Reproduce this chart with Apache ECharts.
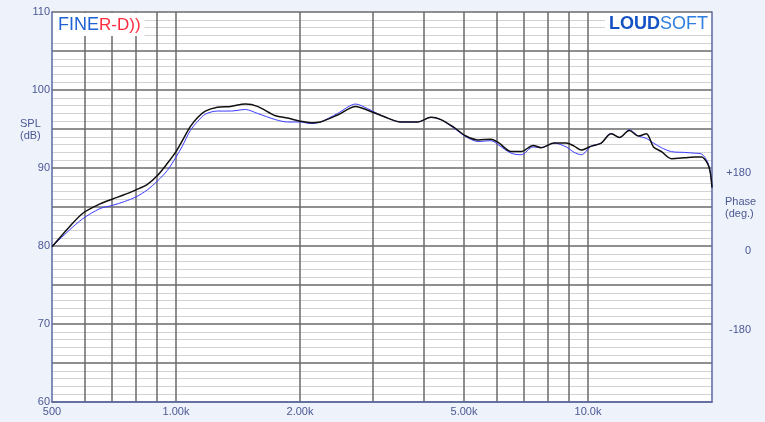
<!DOCTYPE html>
<html>
<head>
<meta charset="utf-8">
<script src="https://cdn.jsdelivr.net/npm/echarts@6/dist/echarts.min.js"></script>
<style>
html,body{margin:0;padding:0;background:#eef2fb;}
#chart{width:765px;height:422px;}
</style>
</head>
<body>
<div id="chart"></div>
<script>
const freqHz = [500, 550, 594, 654, 700, 750, 800, 852, 900, 953, 1000, 1036, 1083, 1130, 1178, 1260, 1356, 1474, 1576, 1744, 1865, 2000, 2122, 2243, 2468, 2730, 2920, 3194, 3513, 3864, 4157, 4395, 4728, 5057, 5407, 5815, 6084, 6506, 6882, 7360, 7697, 8279, 8854, 9260, 9631, 10186, 10772, 11204, 11396, 11917, 12602, 13253, 13860, 14419, 15080, 15946, 17148, 18133, 18860, 19500, 19800, 20000];
const splBlack = [79.9, 82.4, 84.2, 85.4, 86.0, 86.6, 87.2, 87.9, 89.0, 90.6, 92.1, 93.5, 95.3, 96.5, 97.3, 97.8, 97.9, 98.2, 97.9, 96.7, 96.4, 96.0, 95.8, 95.9, 96.8, 97.9, 97.4, 96.6, 95.9, 95.9, 96.5, 96.2, 95.2, 94.1, 93.6, 93.7, 93.2, 92.1, 92.1, 92.9, 92.6, 93.2, 93.2, 92.8, 92.3, 92.8, 93.2, 94.2, 94.4, 93.9, 94.8, 94.1, 94.4, 92.7, 92.1, 91.2, 91.3, 91.4, 91.4, 90.6, 89.5, 87.5];
const splBlue = [79.9, 82.0, 83.5, 84.8, 85.2, 85.7, 86.3, 87.2, 88.3, 89.7, 91.4, 92.8, 94.8, 96.0, 96.9, 97.3, 97.3, 97.5, 97.0, 96.2, 95.9, 95.9, 95.7, 95.9, 97.0, 98.2, 97.6, 96.6, 95.9, 95.9, 96.5, 96.2, 95.1, 94.0, 93.4, 93.5, 92.9, 91.9, 91.7, 92.7, 92.6, 93.2, 92.7, 92.0, 91.7, 92.8, 93.2, 94.3, 94.4, 93.9, 94.9, 94.1, 93.8, 93.2, 92.6, 92.1, 92.0, 91.9, 91.8, 90.8, 89.5, 87.5];
const xTickLabels = [500, 1000, 2000, 5000, 10000];
const xGridFreqs = [600, 700, 800, 900, 1000, 2000, 3000, 4000, 5000, 6000, 7000, 8000, 9000, 10000];
const splTickLabels = [60, 70, 80, 90, 100, 110];
const phaseTickLabels = [-180, 0, 180];

const labelColor = '#4b5894';
const axisBlue = '#5a68a6';
const chart = echarts.init(document.getElementById('chart'));
const fontFam = '"Liberation Sans", Arial, sans-serif';

function fmtFreq(v) {
  if (v >= 10000) return (v / 1000).toFixed(1) + 'k';
  if (v >= 1000) return (v / 1000).toFixed(2) + 'k';
  return String(v);
}

chart.setOption({
  backgroundColor: '#eef2fb',
  animation: false,
  grid: { left: 52, right: 53, top: 12, bottom: 20, show: true, backgroundColor: '#ffffff', borderWidth: 0 },
  xAxis: {
    type: 'log', logBase: 10, min: 500, max: 20000,
    axisLine: { show: true, onZero: false, lineStyle: { color: axisBlue, width: 1.5 } },
    axisTick: { show: false, customValues: xGridFreqs },
    axisLabel: { customValues: xTickLabels, formatter: fmtFreq, color: labelColor, fontSize: 11, fontFamily: fontFam, margin: 4 },
    splitLine: { show: true, lineStyle: { color: '#6a6a6a', width: 1.5 } },
    minorTick: { show: false },
    minorSplitLine: { show: false }
  },
  yAxis: [{
    type: 'value', min: 60, max: 110, interval: 5,
    axisLine: { show: true, onZero: false, lineStyle: { color: axisBlue, width: 1.5 } },
    axisTick: { show: false },
    axisLabel: { formatter: v => (splTickLabels.indexOf(v) >= 0 ? String(v) : ''), color: labelColor, fontSize: 11, fontFamily: fontFam, margin: 2 },
    splitLine: { show: true, lineStyle: { color: '#6a6a6a', width: 1.5 } },
    minorTick: { show: false, splitNumber: 5 },
    minorSplitLine: { show: true, lineStyle: { color: '#d2d2d2', width: 1 } }
  }, {
    type: 'value', min: -346, max: 548, position: 'right',
    axisLine: { show: true, onZero: false, lineStyle: { color: axisBlue, width: 1.5 } },
    axisTick: { show: false },
    axisLabel: { customValues: phaseTickLabels, formatter: v => (v > 0 ? '+' + v : String(v)), color: labelColor, fontSize: 11, fontFamily: fontFam, align: 'right', margin: 39 },
    splitLine: { show: false }
  }],
  graphic: [
    { type: 'text', left: 20, top: 118, z: 100, style: { text: 'SPL\n(dB)', fill: labelColor, font: '11px ' + fontFam, lineHeight: 12, align: 'center' } },
    { type: 'text', left: 725, top: 196, z: 100, style: { text: 'Phase\n(deg.)', fill: labelColor, font: '11px ' + fontFam, lineHeight: 12, align: 'center' } },
    { type: 'text', left: 53, top: 13, z: 100, style: { backgroundColor: '#ffffff', padding: [3, 4, 2, 5], rich: { a: { fill: '#1e62d6', fontSize: 18, fontFamily: fontFam }, b: { fill: '#ff2b3d', fontSize: 17, fontFamily: fontFam } }, text: '{a|FINE}{b|R-D))}' } },
    { type: 'text', right: 54, top: 13, z: 100, style: { backgroundColor: '#ffffff', padding: [2, 3, 2, 4], rich: { a: { fill: '#1452c4', fontSize: 18, fontWeight: 'bold', fontFamily: fontFam }, b: { fill: '#2f7fe0', fontSize: 18, fontFamily: fontFam } }, text: '{a|LOUD}{b|SOFT}' } }
  ],
  series: [{
    type: 'line', name: 'Blue', showSymbol: false, smooth: 0.3,
    data: freqHz.map((f, i) => [f, splBlue[i]]),
    lineStyle: { color: '#3a3aff', width: 1 }, z: 3
  }, {
    type: 'line', name: 'Black', showSymbol: false, smooth: 0.3,
    data: freqHz.map((f, i) => [f, splBlack[i]]),
    lineStyle: { color: '#111111', width: 1.5 }, z: 4
  }]
});
</script>
</body>
</html>
